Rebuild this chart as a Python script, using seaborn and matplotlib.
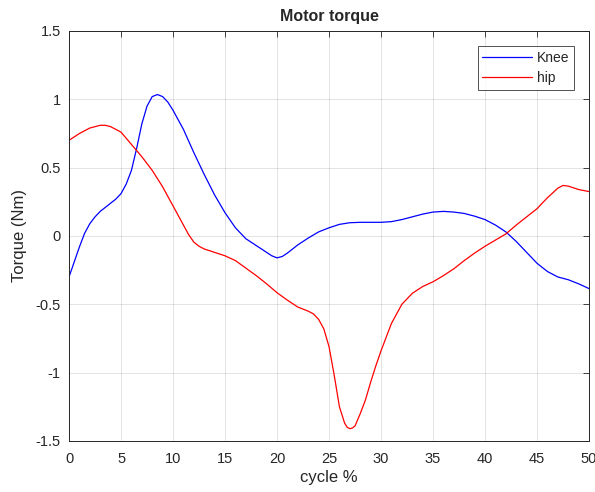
import numpy as np
import pandas as pd
import matplotlib
matplotlib.use('Agg')
import matplotlib.pyplot as plt
import seaborn as sns

# ── values ──────────────────────────────────────────────────
knee_x = [0, 0.5, 1, 1.5, 2, 2.5, 3, 3.5, 4, 4.5, 5, 5.5, 6, 6.5, 7, 7.5, 8, 8.5,
          9, 9.5, 10, 11, 12, 13, 14, 15, 16, 17, 18, 19, 19.5, 20, 20.5, 21, 22,
          23, 24, 25, 26, 27, 28, 29, 30, 31, 32, 33, 34, 35, 36, 37, 38, 39, 40,
          41, 42, 43, 44, 45, 46, 47, 48, 49, 50]
knee_y = [-0.30, -0.19, -0.08, 0.02, 0.09, 0.14, 0.18, 0.21, 0.24, 0.27, 0.31,
          0.38, 0.48, 0.64, 0.82, 0.95, 1.02, 1.035, 1.02, 0.98, 0.92, 0.78, 0.61,
          0.45, 0.30, 0.17, 0.06, -0.02, -0.07, -0.12, -0.145, -0.16, -0.15, -0.125,
          -0.065, -0.015, 0.03, 0.06, 0.085, 0.097, 0.10, 0.10, 0.10, 0.105, 0.12,
          0.14, 0.16, 0.175, 0.18, 0.175, 0.165, 0.145, 0.12, 0.08, 0.03, -0.04,
          -0.12, -0.20, -0.26, -0.30, -0.32, -0.35, -0.385]

hip_x = [0, 1, 2, 3, 3.5, 4, 5, 6, 7, 8, 9, 10, 11, 11.5, 12, 12.5, 13, 14, 15,
         16, 17, 18, 19, 20, 21, 22, 23, 23.5, 24, 24.5, 25, 25.5, 26, 26.5, 26.75,
         27, 27.25, 27.5, 28, 28.5, 29, 29.5, 30, 31, 32, 33, 34, 35, 36, 37, 38,
         39, 40, 41, 42, 43, 44, 45, 46, 47, 47.5, 48, 49, 50]
hip_y = [0.70, 0.75, 0.79, 0.81, 0.81, 0.80, 0.76, 0.67, 0.58, 0.48, 0.36, 0.22,
         0.08, 0.01, -0.045, -0.075, -0.095, -0.12, -0.145, -0.18, -0.235, -0.29,
         -0.35, -0.415, -0.47, -0.52, -0.55, -0.57, -0.61, -0.68, -0.81, -1.02,
         -1.25, -1.37, -1.40, -1.41, -1.405, -1.39, -1.30, -1.20, -1.07, -0.95,
         -0.84, -0.64, -0.50, -0.42, -0.37, -0.335, -0.29, -0.24, -0.18, -0.125,
         -0.075, -0.03, 0.015, 0.08, 0.14, 0.20, 0.28, 0.35, 0.37, 0.365, 0.34,
         0.325]

x_ticks = list(range(0, 51, 5))
y_ticks = [-1.5, -1, -0.5, 0, 0.5, 1, 1.5]
y_labels = ['-1.5', '-1', '-0.5', '0', '0.5', '1', '1.5']

df = pd.concat([
    pd.DataFrame({'cycle': knee_x, 'torque': knee_y, 'joint': 'Knee'}),
    pd.DataFrame({'cycle': hip_x, 'torque': hip_y, 'joint': 'hip'}),
])

sns.set_style('white')
plt.rcParams.update({'font.family': ['Liberation Sans', 'DejaVu Sans'],
                     'xtick.direction': 'in', 'ytick.direction': 'in',
                     'xtick.top': True, 'ytick.right': True,
                     'xtick.major.size': 4, 'ytick.major.size': 4,
                     'xtick.color': '#262626', 'ytick.color': '#262626'})

fig = plt.figure(figsize=(5.95, 4.92), dpi=100)
ax = fig.add_axes([0.116, 0.1037, 0.874, 0.8333])

sns.lineplot(data=df, x='cycle', y='torque', hue='joint', sort=False,
             palette={'Knee': '#0000ff', 'hip': '#ff0000'}, linewidth=0.9,
             estimator=None, ax=ax)

ax.set_xlim(0, 50)
ax.set_ylim(-1.5, 1.5)
ax.set_xticks(x_ticks)
ax.set_yticks(y_ticks)
ax.set_yticklabels(y_labels)
ax.tick_params(labelsize=10.5, width=0.6, labelcolor='#262626')
ax.tick_params(axis='x', pad=8)
ax.tick_params(axis='y', pad=6)
ax.grid(True, color='#262626', alpha=0.15, linewidth=0.6)
for s in ax.spines.values():
    s.set_color('#262626'); s.set_linewidth(0.7)

ax.set_xlabel('cycle %', fontsize=12, color='#262626', labelpad=3)
ax.set_ylabel('Torque (Nm)', fontsize=12, color='#262626', labelpad=6)
ax.set_title('Motor torque', fontsize=11.5, fontweight='bold', pad=7)

leg = ax.legend(loc='upper right', bbox_to_anchor=(0.971, 0.963), fontsize=10,
                frameon=True, fancybox=False, edgecolor='#262626',
                handlelength=3.6, borderpad=0.35, labelspacing=0.45,
                handletextpad=0.3, borderaxespad=0, title=None)
leg.get_frame().set_linewidth(0.7)

plt.savefig('out.png', dpi=100)
